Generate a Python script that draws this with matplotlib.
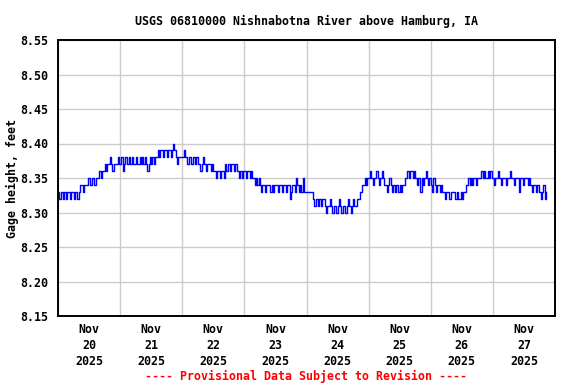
import numpy as np
import pandas as pd
import matplotlib
matplotlib.use("Agg")
import matplotlib.pyplot as plt
import matplotlib.dates as mdates

# Gage height in hundredths of a foot above 8.00 ft, every 30 minutes
nov20 = "33 32 33 33 32 33 32 33 33 32 33 33 32 33 33 32 33 34 34 33 34 34 34 35 35 34 35 35 34 35 35 35 36 35 36 36 37 36 37 37 38 37 36 37 37 37 38 37"
nov21 = "37 38 36 37 38 37 37 38 37 38 37 37 38 37 37 38 37 38 37 38 37 36 37 38 37 38 37 38 38 39 38 39 39 38 39 39 38 39 39 38 39 40 39 38 37 38 38 38"
nov22 = "38 39 38 38 37 38 38 37 38 38 37 38 37 37 36 37 38 37 36 37 37 37 36 37 36 36 35 36 36 35 36 36 35 37 36 37 37 36 37 37 36 37 36 36 35 36 35 36"
nov23 = "36 35 36 36 35 36 35 35 34 35 34 35 34 33 34 34 33 34 34 34 33 34 33 34 34 34 33 34 34 33 34 34 33 34 34 32 33 34 34 33 35 34 33 34 33 35 33 33"
nov24 = "33 33 33 33 33 32 31 32 32 31 32 31 32 32 31 30 31 31 32 31 30 31 31 30 31 32 31 30 31 31 30 31 32 31 30 31 32 31 31 32 32 33 33 34 34 35 34 35"
nov25 = "35 36 35 34 35 35 36 35 34 35 36 35 34 34 33 34 35 34 33 34 33 34 34 33 34 33 34 34 35 35 36 35 36 36 35 36 35 34 35 35 33 35 34 35 36 35 34 35"
nov26 = "34 33 35 34 33 34 34 33 34 33 33 32 33 33 32 32 33 33 33 32 33 32 32 33 32 33 33 34 34 35 34 35 34 35 35 34 35 35 35 36 35 36 35 35 36 35 36 35"
nov27 = "35 34 35 35 36 35 34 35 35 35 34 35 35 36 35 35 34 35 35 35 33 35 35 34 35 35 35 34 35 34 33 34 34 33 34 34 33 32 33 34 32 33"

day_strings = [nov20, nov21, nov22, nov23, nov24, nov25, nov26, nov27]
values = np.array([8.0 + int(v) / 100.0 for s in day_strings for v in s.split()])
times = pd.date_range("2025-11-20 00:00", periods=len(values), freq="30min")

title = "USGS 06810000 Nishnabotna River above Hamburg, IA"
ylabel = "Gage height, feet"
footer = "---- Provisional Data Subject to Revision ----"
yticks = [8.15, 8.20, 8.25, 8.30, 8.35, 8.40, 8.45, 8.50, 8.55]

font = {"family": "DejaVu Sans Mono", "weight": "bold", "size": 8.4}

fig = plt.figure(figsize=(5.76, 3.84), dpi=100)
ax = fig.add_axes([58 / 576, 1 - 316 / 384, (555 - 58) / 576, (316 - 40) / 384])

ax.plot(times, values, color="#0000ff", linewidth=1.0, drawstyle="steps-post")

ax.set_xlim(pd.Timestamp("2025-11-20"), pd.Timestamp("2025-11-28"))
ax.set_ylim(8.15, 8.55)
ax.set_yticks(yticks)
ax.set_yticklabels([f"{v:.2f}" for v in yticks], fontdict=font)

ax.xaxis.set_major_locator(mdates.DayLocator())
ax.xaxis.set_major_formatter(plt.NullFormatter())
ax.xaxis.set_minor_locator(mdates.HourLocator(byhour=[12]))
ax.xaxis.set_minor_formatter(mdates.DateFormatter("%b\n%d\n%Y"))
ax.tick_params(axis="x", which="both", length=0, pad=5)
ax.tick_params(axis="y", length=0, pad=7)
for lab in ax.get_xticklabels(minor=True):
    lab.set_fontfamily("DejaVu Sans Mono")
    lab.set_fontweight("bold")
    lab.set_fontsize(8.4)
    lab.set_linespacing(1.3)

ax.grid(True, which="major", color="#cccccc", linewidth=1.0)
ax.set_axisbelow(True)
for sp in ax.spines.values():
    sp.set_linewidth(1.4)
    sp.set_color("black")

ax.set_title(title, fontdict=font, pad=11)
ax.set_ylabel(ylabel, fontdict=font)
ax.yaxis.set_label_coords((19 - 58) / 497, 0.5)
fig.text(306 / 576, 1 - 376 / 384, footer, color="#ff0000", ha="center", va="center",
         fontdict=font)

fig.savefig("out.png", dpi=100)
